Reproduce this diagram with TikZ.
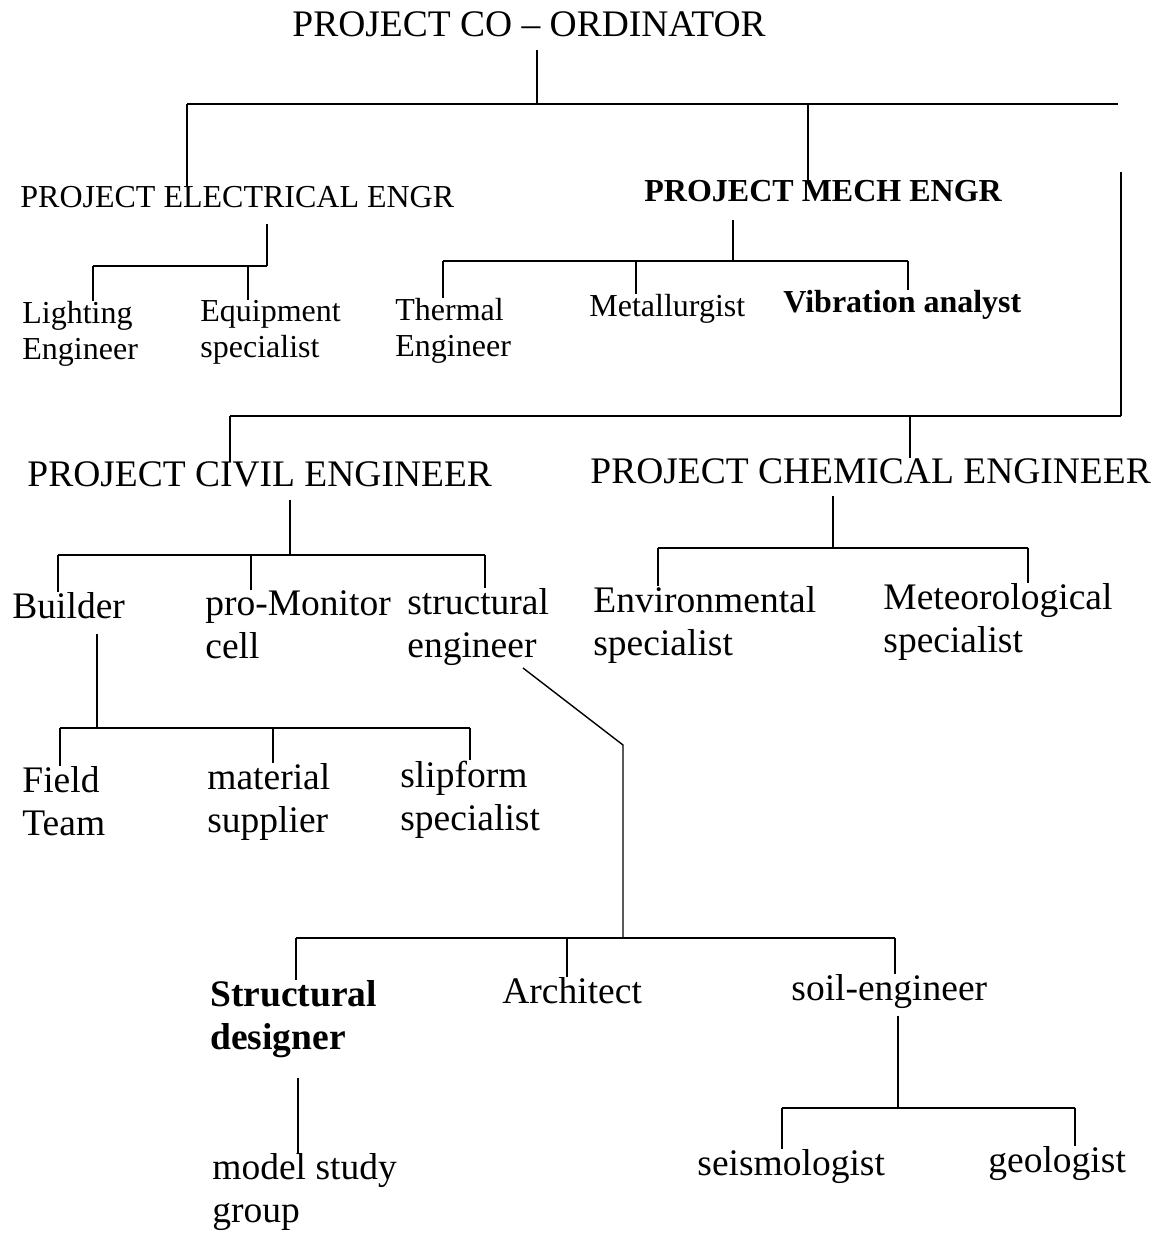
\documentclass[tikz,border=0pt]{standalone}
\usepackage{fontspec}
\setmainfont{Liberation Serif}
\usetikzlibrary{positioning}

\begin{document}
\begin{tikzpicture}[x=0.5pt, y=-0.5pt,
  bigtext/.style={anchor=base west, inner sep=0pt, align=left,
    font=\fontsize{18.75}{21.5}\selectfont},
  smalltext/.style={anchor=base west, inner sep=0pt, align=left,
    font=\fontsize{16}{18}\selectfont},
  bar/.style={line width=1.2pt},
  stem/.style={line width=0.7pt}]

\path[fill=white, use as bounding box] (0,0) rectangle (1167,1234);

% heads (two-line nodes sit on the baseline of their last line)
\node[bigtext] (coord) at (292,37) {PROJECT CO -- ORDINATOR};
\node[smalltext] (elec) at (20,208) {PROJECT ELECTRICAL ENGR};
\node[smalltext, font=\fontsize{16}{18}\selectfont\bfseries] (mech) at (644,202) {PROJECT MECH ENGR};
\node[bigtext] (civil) at (27,487) {PROJECT CIVIL ENGINEER};
\node[bigtext] (chem) at (590,483) {PROJECT CHEMICAL ENGINEER};

% electrical and mechanical staff
\node[smalltext] (light) at (22,360) {Lighting\\Engineer};
\node[smalltext] (equip) at (200,358) {Equipment\\specialist};
\node[smalltext] (therm) at (395,357) {Thermal\\Engineer};
\node[smalltext] (metal) at (589,317) {Metallurgist};
\node[smalltext, font=\fontsize{16}{18}\selectfont\bfseries] (vib) at (783,313) {Vibration analyst};

% civil staff
\node[bigtext] (build) at (12,618) {Builder};
\node[bigtext] (promon) at (205,658) {pro-Monitor\\cell};
\node[bigtext] (struct) at (407,657) {structural\\engineer};
\node[bigtext] (field) at (22,835) {Field\\Team};
\node[bigtext] (mater) at (207,832) {material\\supplier};
\node[bigtext] (slip) at (400,830) {slipform\\specialist};
\node[bigtext, font=\fontsize{18.75}{21.5}\selectfont\bfseries] (sdes) at (210,1049) {Structural\\designer};
\node[bigtext] (arch) at (502,1003) {Architect};
\node[bigtext] (soil) at (791,1000) {soil-engineer};
\node[bigtext] (model) at (212,1222) {model study\\group};
\node[bigtext] (seis) at (697,1175) {seismologist};
\node[bigtext] (geo) at (988,1172) {geologist};

% chemical staff
\node[bigtext] (envir) at (593,655) {Environmental\\specialist};
\node[bigtext] (meteo) at (883,652) {Meteorological\\specialist};

% top level
\coordinate (top-j) at (537,104);
\coordinate (top-l) at (187,104);
\coordinate (top-m) at (808,104);
\coordinate (top-r) at (1118,104);
\draw[stem, shorten <=6pt] (coord.south -| top-j) -- (top-j);
\draw[bar] (top-l) -- (top-r);
\draw[stem] (top-l) -- (elec.north -| top-l);
\draw[stem] (top-m) -- (mech.north -| top-m);

% side branch to civil and chemical
\coordinate (side-t) at (1121,172);
\coordinate (side-b) at (1121,416);
\coordinate (low-l) at (230,416);
\coordinate (low-c) at (910,416);
\draw[stem] (side-t) -- (side-b);
\draw[bar] (side-b) -- (low-l);
\draw[stem] (low-l) -- (civil.north -| low-l);
\draw[stem] (low-c) -- (chem.north -| low-c);

% electrical
\coordinate (el-j) at (267,266);
\coordinate (el-l) at (93,266);
\coordinate (el-m) at (248,266);
\draw[stem, shorten <=7.5pt] (elec.south -| el-j) -- (el-j);
\draw[bar] (el-l) -- (el-j);
\draw[stem] (el-l) -- (light.north -| el-l);
\draw[stem] (el-m) -- (equip.north -| el-m);

% mechanical
\coordinate (me-j) at (733,261);
\coordinate (me-l) at (443,261);
\coordinate (me-m) at (636,261);
\coordinate (me-r) at (908,261);
\draw[stem, shorten <=8.5pt] (mech.south -| me-j) -- (me-j);
\draw[bar] (me-l) -- (me-r);
\draw[stem] (me-l) -- (therm.north -| me-l);
\draw[stem] (me-m) -- (metal.north -| me-m);
\draw[stem] (me-r) -- (vib.north -| me-r);

% civil
\coordinate (cv-j) at (290,555);
\coordinate (cv-l) at (58,555);
\coordinate (cv-m) at (251,555);
\coordinate (cv-r) at (485,555);
\draw[stem, shorten <=6pt] (civil.south -| cv-j) -- (cv-j);
\draw[bar] (cv-l) -- (cv-r);
\draw[stem] (cv-l) -- (build.north -| cv-l);
\draw[stem] (cv-m) -- (promon.north -| cv-m);
\draw[stem] (cv-r) -- (struct.north -| cv-r);

% builder
\coordinate (bd-j) at (97,728);
\coordinate (bd-l) at (60,728);
\coordinate (bd-m) at (273,728);
\coordinate (bd-r) at (470,728);
\draw[stem, shorten <=7.5pt] (build.south -| bd-j) -- (bd-j);
\draw[bar] (bd-l) -- (bd-r);
\draw[stem] (bd-l) -- (field.north -| bd-l);
\draw[stem] (bd-m) -- (mater.north -| bd-m);
\draw[stem] (bd-r) -- (slip.north -| bd-r);

% structural engineer
\coordinate (se-a) at (523,668);
\coordinate (se-b) at (623,745);
\coordinate (se-j) at (623,938);
\coordinate (se-l) at (296,938);
\coordinate (se-m) at (567,938);
\coordinate (se-r) at (895,938);
\draw[stem] (se-a) -- (se-b) -- (se-j);
\draw[bar] (se-l) -- (se-r);
\draw[stem] (se-l) -- (sdes.north -| se-l);
\draw[stem] (se-m) -- (arch.north -| se-m);
\draw[stem] (se-r) -- (soil.north -| se-r);

% designer and soil engineer
\coordinate (sd-j) at (298,1078);
\draw[stem] (sd-j) -- (model.north -| sd-j);
\coordinate (so-j) at (898,1108);
\coordinate (so-l) at (782,1108);
\coordinate (so-r) at (1075,1108);
\draw[stem, shorten <=3.5pt] (soil.south -| so-j) -- (so-j);
\draw[bar] (so-l) -- (so-r);
\draw[stem] (so-l) -- (seis.north -| so-l);
\draw[stem] (so-r) -- (geo.north -| so-r);

% chemical
\coordinate (ch-j) at (833,548);
\coordinate (ch-l) at (658,548);
\coordinate (ch-r) at (1028,548);
\draw[stem, shorten <=6pt] (chem.south -| ch-j) -- (ch-j);
\draw[bar] (ch-l) -- (ch-r);
\draw[stem] (ch-l) -- (envir.north -| ch-l);
\draw[stem] (ch-r) -- (meteo.north -| ch-r);
\end{tikzpicture}
\end{document}
